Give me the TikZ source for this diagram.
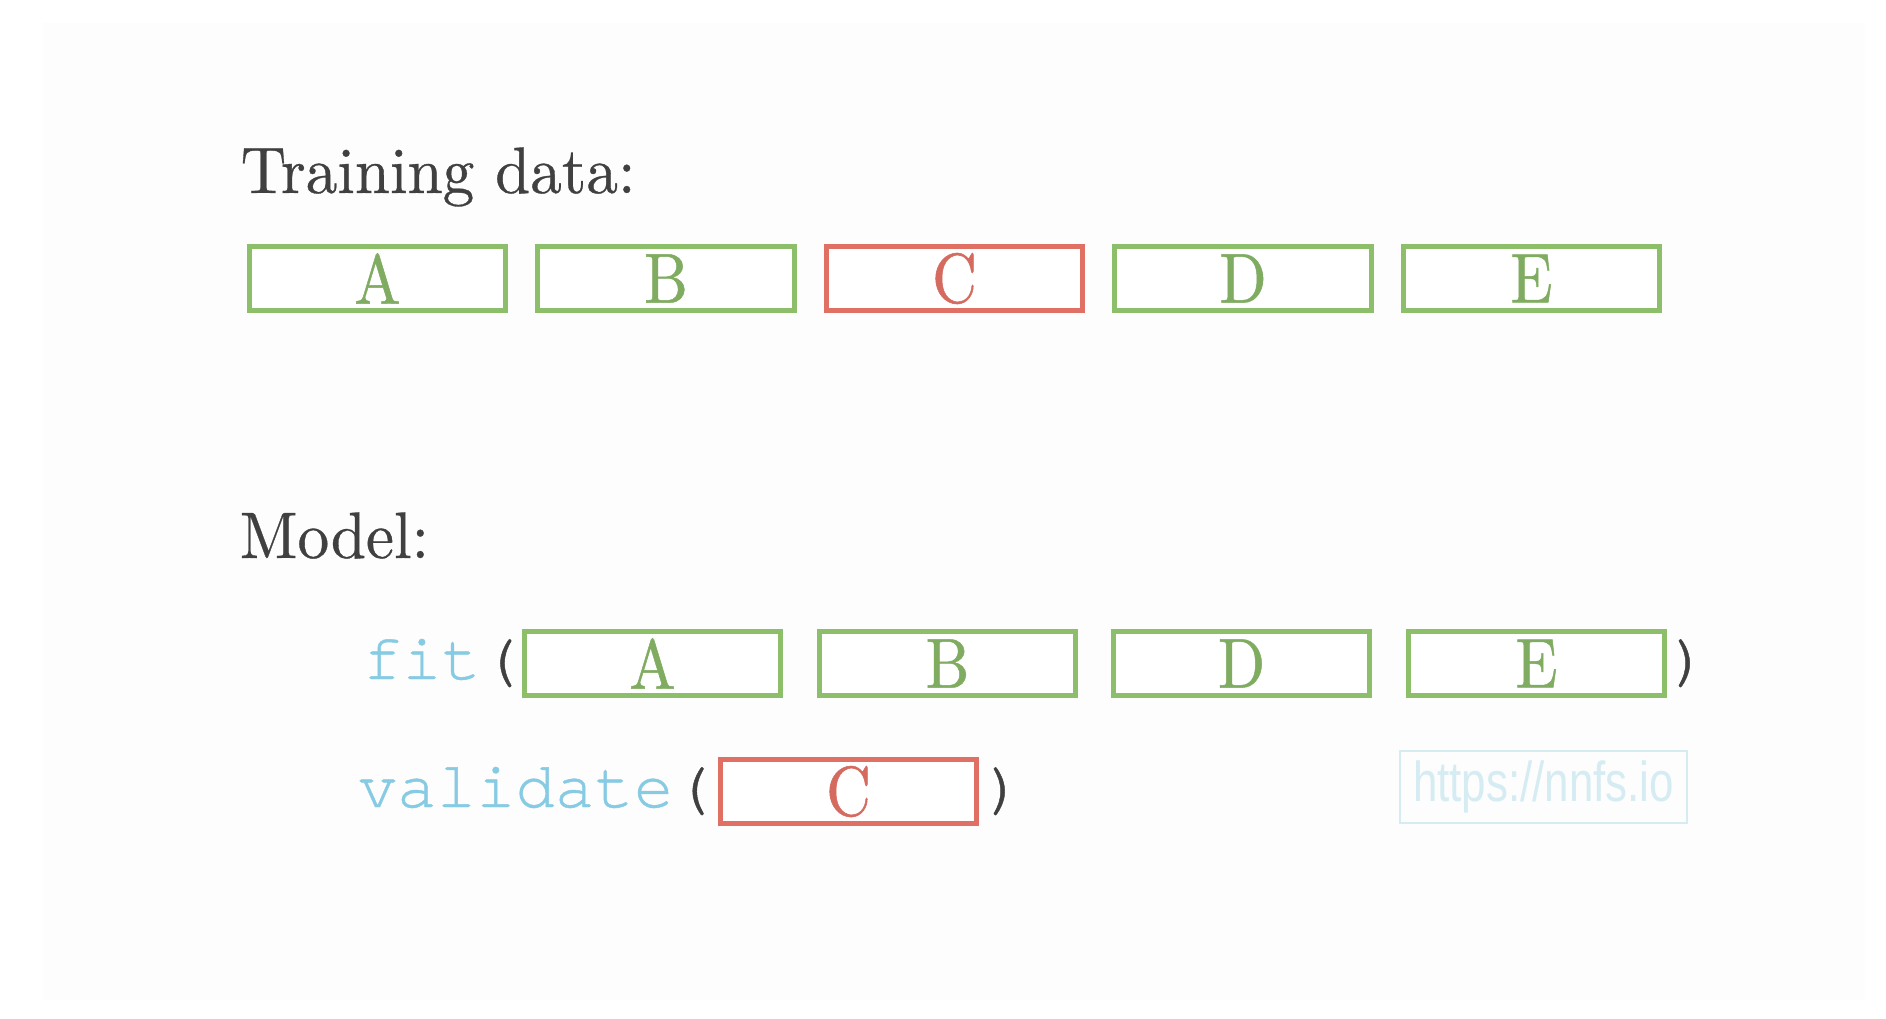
\documentclass[tikz,border=0pt]{standalone}
\usepackage{fontspec}
\setmonofont[Ligatures=NoCommon, FakeBold=0.7]{texgyrecursor-regular.otf}
\newfontfamily\headfont[FakeStretch=0.96, FakeBold=0.5]{lmroman10-regular.otf}
\newfontfamily\letterfont[FakeStretch=0.88, FakeBold=0.7]{lmroman10-regular.otf}
\newfontfamily\urlfont[FakeStretch=0.78]{Liberation Sans}
\definecolor{foldgreen}{HTML}{8DBF6B}
\definecolor{foldred}{HTML}{E07064}
\definecolor{callblue}{HTML}{86CBE3}
\definecolor{inkgray}{HTML}{404040}
\definecolor{markblue}{HTML}{D5ECF3}
\definecolor{pagegray}{HTML}{FDFDFD}

\begin{document}
\begin{tikzpicture}[x=0.01cm, y=-0.01cm,
  fold/.style={draw, line width=1.42pt, fill=white, inner sep=0pt,
    minimum width=2.56cm, minimum height=0.64cm,
    font=\letterfont\fontsize{20}{24}\selectfont},
  trainfold/.style={fold, draw=foldgreen, text=foldgreen!90!black},
  testfold/.style={fold, draw=foldred, text=foldred!95!black},
  heading/.style={anchor=base west, inner sep=0pt, text=inkgray,
    font=\headfont\fontsize{18.7}{23}\selectfont},
  code/.style={inner sep=0pt, text=inkgray,
    font=\ttfamily\fontsize{18.7}{22}\selectfont}]
  \useasboundingbox (0,0) rectangle (1886,1018);
  \fill[pagegray] (43,23) rectangle (1865,1000);

  % training data
  \node[heading] (TrainLabel) at (240,193) {Training data:};
  \node[trainfold] (TrainA) at (377.5,278.5) {A};
  \node[trainfold] (TrainB) at (666,278.5) {B};
  \node[testfold]  (TrainC) at (954.5,278.5) {C};
  \node[trainfold] (TrainD) at (1243,278.5) {D};
  \node[trainfold] (TrainE) at (1531.5,278.5) {E};

  % model calls
  \node[heading] (ModelLabel) at (239,558) {Model:};
  \node[code, anchor=base west] (FitCall) at (362,679)
    {\textcolor{callblue}{fit}(};
  \node[trainfold] (FitA) at (652.5,663.5) {A};
  \node[trainfold] (FitB) at (947.5,663.5) {B};
  \node[trainfold] (FitD) at (1241.5,663.5) {D};
  \node[trainfold] (FitE) at (1536.5,663.5) {E};
  \node[code, anchor=base] (FitClose) at (1689,679) {)};

  \node[code, anchor=base west] (ValCall) at (357,807)
    {\textcolor{callblue}{validate}(};
  \node[testfold] (ValC) at (848.5,791.5) {C};
  \node[code, anchor=base] (ValClose) at (1004,807) {)};

  \node[draw=markblue, line width=0.6pt, text=markblue, inner sep=0pt,
    minimum width=2.87cm, minimum height=0.72cm,
    font=\urlfont\fontsize{16}{19}\selectfont] (Watermark) at (1543.5,787)
    {https://nnfs.io};
\end{tikzpicture}
\end{document}
